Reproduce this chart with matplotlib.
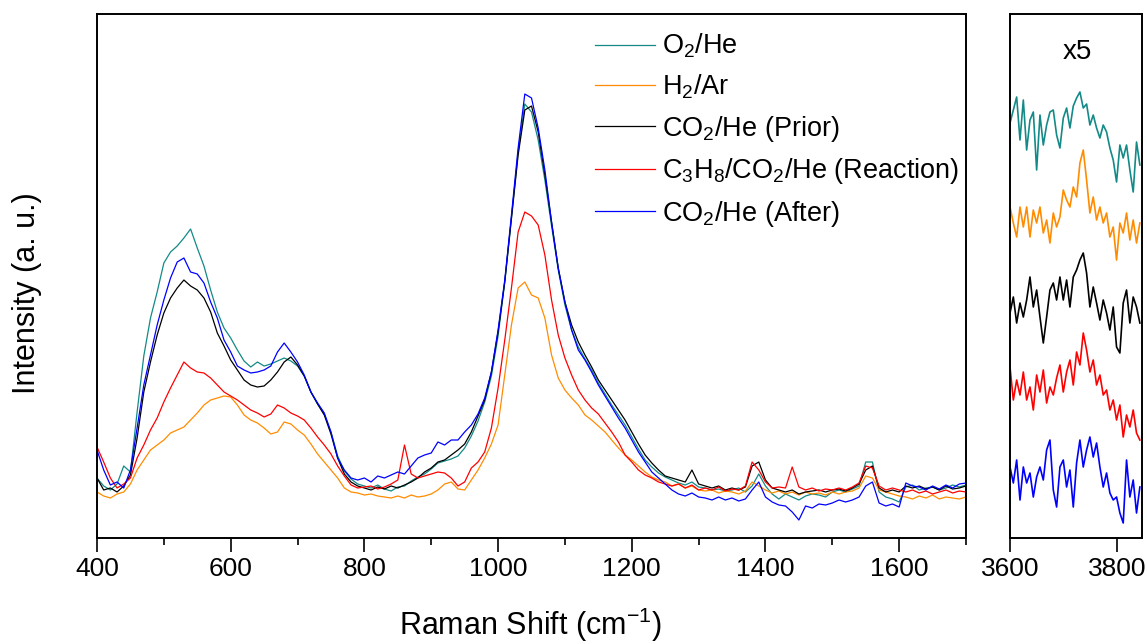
import numpy as np
import matplotlib
matplotlib.use("Agg")
import matplotlib.pyplot as plt
from matplotlib.ticker import MultipleLocator, FixedLocator

plt.rcParams['font.family'] = ['Liberation Sans', 'DejaVu Sans']
plt.rcParams['mathtext.fontset'] = 'custom'
plt.rcParams['mathtext.rm'] = 'Liberation Sans'
plt.rcParams['mathtext.it'] = 'Liberation Sans:italic'
plt.rcParams['mathtext.default'] = 'regular'

# ---------------- data (main panel, 400-1700 cm-1, every 10 cm-1) ----------------
shift_main = np.arange(400, 1701, 10)

o2_he = [59, 51, 47, 53, 71, 65, 125, 181, 219, 245,
         274, 285, 291, 299, 308, 289, 271, 247, 225, 209,
         199, 187, 176, 170, 175, 171, 173, 176, 179, 176,
         171, 161, 145, 133, 123, 105, 81, 66, 58, 53,
         51, 49, 52, 48, 46, 50, 51, 56, 60, 63,
         68, 74, 76, 78, 81, 89, 101, 116, 135, 161,
         201, 255, 319, 385, 433, 425, 397, 357, 311, 267,
         232, 207, 190, 178, 167, 154, 143, 132, 122, 112,
         100, 88, 77, 70, 64, 60, 57, 54, 52, 55,
         50, 49, 47, 48, 46, 47, 49, 45, 51, 63,
         51, 43, 38, 43, 40, 37, 41, 43, 42, 40,
         45, 47, 45, 48, 51, 75, 75, 45, 40, 38,
         35, 50, 52, 47, 49, 50, 47, 49, 52, 50,
         52]

h2_ar = [45, 41, 39, 43, 45, 53, 67, 77, 87, 92,
         97, 104, 107, 110, 117, 124, 132, 137, 139, 141,
         140, 132, 122, 117, 114, 109, 103, 105, 115, 113,
         107, 102, 93, 83, 75, 67, 59, 49, 45, 44,
         42, 43, 41, 40, 39, 41, 39, 42, 40, 41,
         43, 47, 53, 55, 48, 47, 57, 67, 79, 93,
         112, 162, 212, 249, 255, 242, 239, 219, 182, 159,
         147, 139, 132, 122, 117, 111, 105, 97, 89, 82,
         77, 71, 65, 60, 57, 55, 51, 53, 49, 51,
         47, 46, 47, 44, 46, 45, 43, 46, 55, 51,
         47, 44, 46, 43, 45, 42, 45, 43, 44, 42,
         45, 43, 45, 46, 49, 61, 59, 47, 45, 43,
         41, 40, 38, 41, 39, 42, 38, 40, 39, 38,
         40]

co2_prior = [59, 47, 49, 45, 51, 62, 99, 145, 175, 202,
             224, 239, 249, 257, 251, 247, 239, 225, 204, 191,
             177, 167, 157, 152, 150, 151, 157, 165, 175, 180,
             172, 161, 145, 133, 122, 103, 79, 63, 55, 51,
             49, 47, 50, 48, 51, 49, 52, 55, 59, 65,
             69, 75, 77, 82, 87, 93, 105, 121, 137, 165,
             205, 255, 319, 382, 427, 431, 405, 362, 315, 269,
             235, 212, 195, 182, 170, 157, 147, 137, 127, 117,
             105, 93, 82, 74, 67, 61, 59, 57, 55, 67,
             53, 51, 49, 51, 47, 49, 47, 50, 71, 75,
             57, 49, 47, 45, 47, 43, 45, 46, 47, 45,
             47, 48, 46, 49, 53, 67, 71, 49, 45, 47,
             45, 51, 49, 51, 48, 50, 47, 51, 48, 49,
             51]

c3h8_reaction = [90, 75, 59, 49, 53, 59, 79, 92, 107, 119,
                 135, 149, 162, 175, 169, 165, 164, 159, 152, 145,
                 141, 137, 132, 127, 124, 120, 123, 132, 129, 124,
                 121, 117, 109, 100, 92, 83, 71, 61, 52, 49,
                 50, 51, 48, 50, 53, 57, 92, 63, 59, 61,
                 63, 65, 64, 59, 51, 55, 69, 75, 85, 109,
                 149, 197, 249, 305, 325, 321, 312, 282, 237, 202,
                 179, 162, 147, 137, 129, 123, 114, 105, 95, 82,
                 75, 67, 62, 59, 55, 53, 51, 53, 49, 52,
                 47, 49, 47, 50, 46, 48, 47, 51, 75, 67,
                 55, 49, 50, 49, 70, 50, 47, 49, 46, 48,
                 47, 49, 47, 50, 54, 71, 69, 51, 47, 49,
                 47, 45, 47, 44, 46, 43, 45, 47, 44, 46,
                 45]

co2_after = [87, 67, 52, 55, 49, 67, 109, 152, 182, 212,
             237, 259, 275, 279, 265, 263, 254, 235, 219, 197,
             185, 171, 167, 164, 165, 167, 171, 185, 194, 185,
             175, 162, 145, 134, 124, 105, 79, 67, 59, 57,
             59, 55, 61, 59, 62, 65, 63, 71, 79, 82,
             84, 95, 92, 97, 97, 105, 112, 123, 139, 165,
             207, 257, 322, 389, 443, 439, 409, 367, 315, 269,
             235, 207, 187, 177, 165, 152, 141, 130, 119, 109,
             97, 85, 75, 65, 59, 53, 47, 43, 41, 44,
             40, 39, 37, 40, 37, 39, 36, 38, 47, 55,
             40, 35, 32, 31, 25, 17, 31, 29, 33, 32,
             34, 37, 35, 37, 40, 51, 55, 34, 31, 33,
             30, 54, 51, 50, 47, 51, 48, 52, 49, 53,
             54]

# ---------------- data (inset panel, 3600-3843 cm-1, x5, offset) ----------------
shift_oh = np.linspace(3600, 3843, 40)

o2_he_oh = [414, 427, 440, 397, 437, 387, 417, 425, 367, 422,
            392, 412, 425, 427, 402, 389, 419, 429, 409, 431,
            439, 445, 429, 433, 412, 422, 409, 399, 412, 405,
            389, 377, 355, 392, 379, 392, 367, 345, 395, 372]

h2_ar_oh = [330, 314, 300, 330, 310, 330, 300, 327, 314, 330,
            304, 317, 294, 324, 310, 320, 347, 337, 330, 350,
            340, 374, 387, 357, 324, 340, 317, 330, 314, 324,
            300, 310, 277, 314, 304, 324, 297, 317, 294, 314]

co2_prior_oh = [224, 240, 214, 234, 220, 237, 260, 230, 247, 220,
                194, 220, 247, 254, 237, 260, 237, 257, 230, 260,
                267, 277, 284, 264, 230, 250, 234, 217, 237, 224,
                207, 230, 190, 184, 234, 247, 214, 240, 230, 214]

c3h8_reaction_oh = [170, 137, 157, 142, 165, 137, 150, 127, 162, 145,
                    167, 134, 150, 142, 159, 172, 145, 165, 177, 152,
                    185, 172, 204, 187, 165, 177, 152, 162, 142, 147,
                    127, 137, 117, 132, 100, 122, 110, 127, 104, 97]

co2_after_oh = [70, 54, 77, 37, 70, 54, 64, 40, 60, 70,
                57, 87, 97, 47, 30, 70, 77, 50, 67, 30,
                74, 97, 70, 87, 100, 80, 94, 70, 50, 64,
                44, 37, 40, 24, 14, 77, 40, 57, 24, 50]

labels = [r'O$_2$/He', r'H$_2$/Ar', r'CO$_2$/He (Prior)',
          r'C$_3$H$_8$/CO$_2$/He (Reaction)', r'CO$_2$/He (After)']
colors = ['#138A87', '#FF8C00', '#000000', '#FF0000', '#0000FF']

main_series = [o2_he, h2_ar, co2_prior, c3h8_reaction, co2_after]
oh_series = [o2_he_oh, h2_ar_oh, co2_prior_oh, c3h8_reaction_oh, co2_after_oh]

# ---------------- figure ----------------
W, H = 1147, 644
fig = plt.figure(figsize=(W / 100, H / 100), dpi=100)
ax = fig.add_axes([97 / W, 1 - 538 / H, (966 - 97) / W, (538 - 14) / H])
ax2 = fig.add_axes([1010 / W, 1 - 538 / H, (1142 - 1010) / W, (538 - 14) / H])

lines = []
for y, c, lab in zip(main_series, colors, labels):
    ln, = ax.plot(shift_main, y, color=c, lw=0.9, label=lab)
    lines.append(ln)
for y, c in zip(oh_series, colors):
    ax2.plot(shift_oh, y, color=c, lw=1.2)

ax.set_xlim(400, 1700)
ax.set_ylim(-1, 523)
ax2.set_xlim(3600, 3847)
ax2.set_ylim(-1, 523)

ax.xaxis.set_major_locator(MultipleLocator(200))
ax.xaxis.set_minor_locator(MultipleLocator(100))
ax2.xaxis.set_major_locator(FixedLocator([3600, 3800]))

for a in (ax, ax2):
    a.set_yticks([])
    for s in a.spines.values():
        s.set_linewidth(1.4)
    a.tick_params(axis='x', which='major', direction='out', length=10,
                  width=1.2, labelsize=19, pad=4)
    a.tick_params(axis='x', which='minor', direction='out', length=5, width=1.2)

leg = ax.legend(handles=lines, loc='upper left',
                bbox_to_anchor=(595 / W, 1 - 32 / H), bbox_transform=fig.transFigure,
                frameon=False, fontsize=19.5, handlelength=2.2, handletextpad=0.28,
                labelspacing=0.46, borderaxespad=0, borderpad=0)

fig.text(1077 / W, 1 - 52 / H, 'x5', fontsize=20, ha='center', va='center')
fig.text(530 / W, 1 - 625 / H, r'Raman Shift (cm$^{-1}$)', fontsize=22,
         ha='center', va='center')
fig.text(27 / W, 1 - 293 / H, 'Intensity (a. u.)', fontsize=22,
         ha='center', va='center', rotation=90)

fig.savefig('out.png', dpi=100)
